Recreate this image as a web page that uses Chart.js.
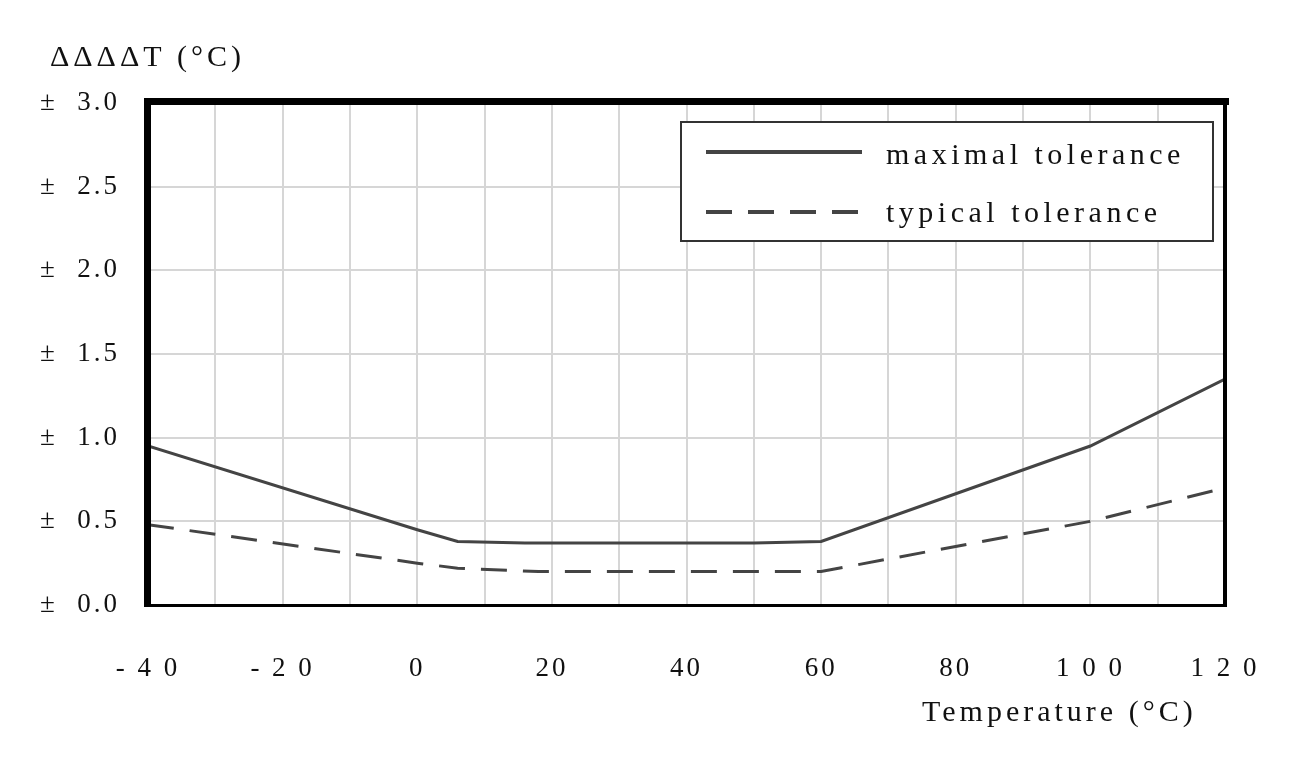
<!DOCTYPE html>
<html><head><meta charset="utf-8">
<script src="https://cdn.jsdelivr.net/npm/chart.js@4"></script>
<style>html,body{margin:0;background:#fff}#c{display:block}</style>
</head><body>
<div style="width:1300px;height:777px"><canvas id="c"></canvas></div>
<script>
// temperature (°C) vs tolerance (±°C)
const maxTemps = [-40, 0, 6, 16, 50, 60, 100, 120];
const maxTol = [0.95, 0.45, 0.38, 0.37, 0.37, 0.38, 0.95, 1.35];
const typTemps = [-40, 0, 6, 18, 60, 100, 120];
const typTol = [0.48, 0.25, 0.22, 0.20, 0.20, 0.50, 0.70];
const seriesNames = ['maximal tolerance', 'typical tolerance'];
const xLabelMap = { '-40': '- 4 0', '-20': '- 2 0', '0': '0', '20': '20', '40': '40', '60': '60', '80': '80', '100': '1 0 0', '120': '1 2 0' };

const FONT = '"Liberation Serif", "DejaVu Serif", serif';
const toXY = (xs, ys) => xs.map((x, i) => ({ x, y: ys[i] }));

const spacing = {
  id: 'spacing',
  beforeDraw(chart) { chart.ctx.letterSpacing = '3px'; }
};

const decor = {
  id: 'decor',
  afterDraw(chart) {
    const { ctx, chartArea: a } = chart;
    ctx.save();
    ctx.fillStyle = '#000';
    ctx.fillRect(a.left - 4, a.top - 5, a.right - a.left + 8, 7);
    ctx.fillRect(a.left - 4, a.top - 5, 7, a.bottom - a.top + 5);
    ctx.fillRect(a.right - 2, a.top - 5, 4, a.bottom - a.top + 5);
    ctx.fillRect(a.left - 4, a.bottom - 1, a.right - a.left + 6, 3);
    ctx.font = '30px ' + FONT;
    ctx.letterSpacing = '4px';
    ctx.fillStyle = '#111';
    ctx.textBaseline = 'middle';
    ctx.fillText('ΔΔΔΔT (°C)', 50, 58);
    ctx.fillText('Temperature (°C)', 922, 713);
    // legend box
    ctx.fillStyle = '#fff';
    ctx.fillRect(681, 122, 532, 119);
    ctx.strokeStyle = '#333';
    ctx.lineWidth = 2;
    ctx.strokeRect(681, 122, 532, 119);
    ctx.strokeStyle = '#444';
    ctx.lineWidth = 4;
    ctx.beginPath(); ctx.moveTo(706, 152); ctx.lineTo(862, 152); ctx.stroke();
    ctx.setLineDash([26, 16]);
    ctx.beginPath(); ctx.moveTo(706, 212); ctx.lineTo(862, 212); ctx.stroke();
    ctx.setLineDash([]);
    ctx.fillStyle = '#111';
    ctx.font = '30px ' + FONT;
    ctx.letterSpacing = '4.5px';
    ctx.fillText('maximal tolerance', 886, 156);
    ctx.fillText('typical tolerance', 886, 214);
    ctx.restore();
  }
};

new Chart(document.getElementById('c'), {
  type: 'scatter',
  data: {
    datasets: [
      { label: seriesNames[0], data: toXY(maxTemps, maxTol), showLine: true, borderColor: '#444', borderWidth: 3, pointRadius: 0 },
      { label: seriesNames[1], data: toXY(typTemps, typTol), showLine: true, borderColor: '#444', borderWidth: 3, borderDash: [26, 16], pointRadius: 0 }
    ]
  },
  options: {
    responsive: true, maintainAspectRatio: false, animation: false,
    layout: { padding: { left: 0, top: 103, right: 72, bottom: 0 } },
    plugins: { legend: { display: false }, tooltip: { enabled: false } },
    scales: {
      x: {
        type: 'linear', min: -40, max: 120,
        afterFit(s) { s.height = 172; },
        grid: { color: '#d6d6d6', lineWidth: 2, drawTicks: false },
        border: { display: false },
        ticks: { stepSize: 10, padding: 48, maxRotation: 0, color: '#111', font: { family: FONT, size: 27 },
          callback: v => (v % 20 === 0 ? xLabelMap[String(v)] : '') }
      },
      y: {
        min: 0, max: 3,
        afterFit(s) { s.width = 148; },
        grid: { color: '#d6d6d6', lineWidth: 2, drawTicks: false },
        border: { display: false },
        ticks: { stepSize: 0.5, padding: 28, color: '#111', font: { family: FONT, size: 27 },
          callback: v => '±  ' + v.toFixed(1) }
      }
    }
  },
  plugins: [spacing, decor]
});
</script>
</body></html>
